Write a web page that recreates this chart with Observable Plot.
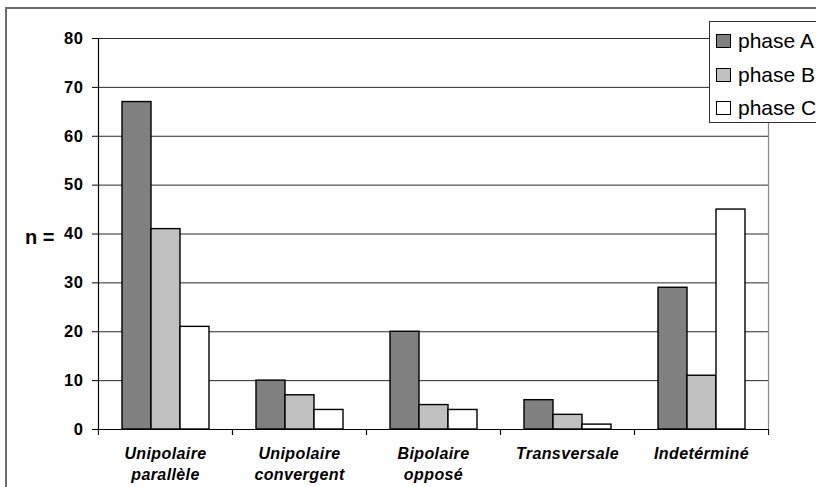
<!DOCTYPE html>
<html><head><meta charset="utf-8">
<script src="https://cdn.jsdelivr.net/npm/d3@7"></script>
<script src="https://cdn.jsdelivr.net/npm/@observablehq/plot@0.6"></script>
<style>
html,body{margin:0;padding:0;background:#fff;overflow:hidden;width:816px;height:487px}
#wrap{position:relative;width:816px;height:487px;overflow:hidden;font-family:"Liberation Sans",Arial,sans-serif}
#border{position:absolute;left:5px;top:7px;width:900px;height:600px;border-top:2px solid #6a6a6a;border-left:2px solid #6a6a6a;box-sizing:border-box}
#chart{position:absolute;left:0;top:0}
#ylab{position:absolute;left:25px;top:226px;font-size:20px;font-weight:bold;color:#000}
#legend{position:absolute;left:709px;top:21px;width:140px;height:102px;border:1.5px solid #333;background:#fff;box-sizing:border-box;z-index:2}
.item{position:absolute;left:6px;height:22px;font-size:21px;color:#000;white-space:nowrap;line-height:22px}
.sw{display:inline-block;width:13px;height:12px;border:1px solid #000;vertical-align:0px;margin-right:7px}
#chart g[aria-label="fx-axis tick label"] text{letter-spacing:0.4px}
#chart g[aria-label="y-axis tick label"]{font-size:16.5px}
#chart g[aria-label="y-axis tick label"] text{letter-spacing:0.6px}
</style>
</head><body>
<div id="wrap">
  <div id="border"></div>
  <div id="chart"></div>
  <div id="ylab">n =</div>
  <div id="legend"></div>
</div>
<script>
const categories = ["Unipolaire parallèle", "Unipolaire convergent", "Bipolaire opposé", "Transversale", "Indetérminé"];
const categoryLabels = ["Unipolaire\nparallèle", "Unipolaire\nconvergent", "Bipolaire\nopposé", "Transversale", "Indetérminé"];
const phases = ["phase A", "phase B", "phase C"];
const phaseA = [67, 10, 20, 6, 29];
const phaseB = [41, 7, 5, 3, 11];
const phaseC = [21, 4, 4, 1, 45];
const phaseColors = ["#808080", "#c0c0c0", "#ffffff"];
const yTicks = [0, 10, 20, 30, 40, 50, 60, 70, 80];

const series = [phaseA, phaseB, phaseC];
const rows = [];
categories.forEach((c, i) => phases.forEach((p, j) => rows.push({category: c, phase: p, value: series[j][i]})));

const W = 816, H = 487, mL = 97, mR = 48, mT = 38, mB = 58;
const step = (W - mL - mR) / categories.length;

const chart = Plot.plot({
  width: W, height: H,
  marginLeft: mL, marginRight: mR, marginTop: mT, marginBottom: mB,
  style: {fontFamily: '"Liberation Sans", Arial, sans-serif', background: "transparent", color: "#000", overflow: "visible"},
  fx: {domain: categories, padding: 0, axis: null, label: null},
  x: {domain: phases, paddingInner: 0, paddingOuter: 0.775, axis: null},
  y: {domain: [0, 80], axis: null},
  color: {domain: phases, range: phaseColors},
  marks: [
    Plot.ruleY(yTicks.filter(d => d > 0), {stroke: "#2a2a2a", strokeWidth: 1}),
    Plot.barY(rows, {fx: "category", x: "phase", y: "value", fill: "phase", stroke: "#000", strokeWidth: 1.4}),
    Plot.ruleY([0], {stroke: "#000", strokeWidth: 1.2}),
    Plot.frame({anchor: "left", facetAnchor: "left", stroke: "#000", strokeWidth: 1.2}),
    Plot.frame({anchor: "right", facetAnchor: "right", stroke: "#888", strokeWidth: 1.2}),
    Plot.axisY({ticks: yTicks, tickSize: 6, tickPadding: 9, fontSize: 16.5, fontWeight: "bold", label: null, stroke: "#000"}),
    Plot.axisFx({anchor: "bottom", tickSize: 0, tickPadding: 15, tickFormat: d => categoryLabels[categories.indexOf(d)],
      fontSize: 16, fontWeight: "bold", fontStyle: "italic", lineHeight: 1.3, label: null}),
    Plot.axisFx({anchor: "bottom", tickSize: 6, tickFormat: () => "", dx: step / 2, label: null, stroke: "#000"}),
    Plot.axisFx({anchor: "bottom", tickSize: 6, tickFormat: () => "", dx: -step / 2, label: null, stroke: "#000"})
  ]
});
document.getElementById("chart").appendChild(chart);

const legend = document.getElementById("legend");
phases.forEach((p, i) => {
  const it = document.createElement("div");
  it.className = "item";
  it.style.top = (8 + i * 33.5) + "px";
  it.innerHTML = `<span class="sw" style="background:${phaseColors[i]}"></span>${p}`;
  legend.appendChild(it);
});
</script>
</body></html>
